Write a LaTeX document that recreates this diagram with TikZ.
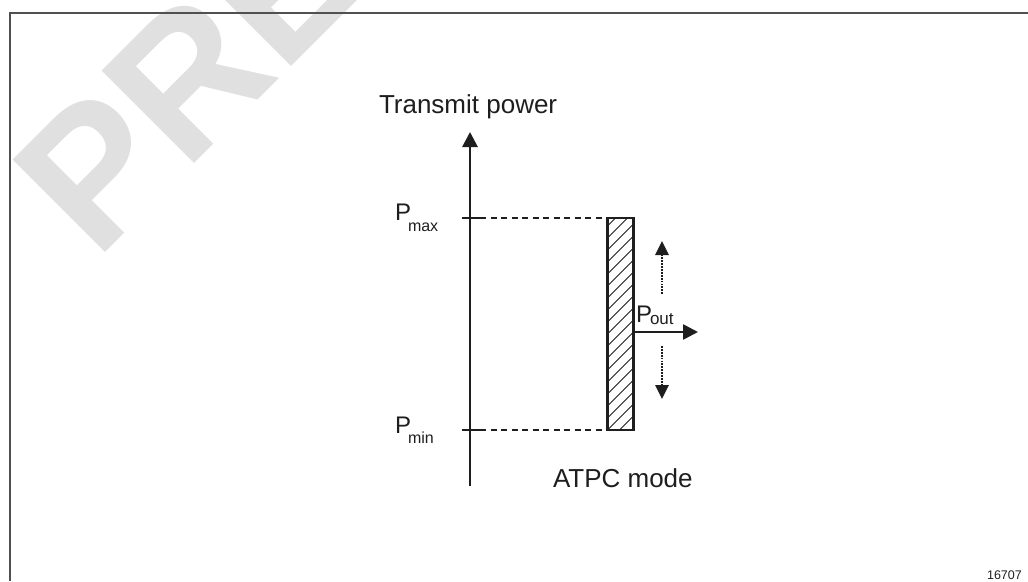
\documentclass[tikz,border=0pt]{standalone}
\usepackage{fontspec}
\setmainfont{Liberation Sans}
\usetikzlibrary{arrows.meta,calc}
\definecolor{wm}{RGB}{224,224,224}
\definecolor{framec}{RGB}{80,80,80}
\definecolor{ink}{RGB}{30,30,30}
\tikzset{
  px/.style={x=1pt,y=-1pt},
  txt/.style={inner sep=0pt,outer sep=0pt,text=ink,anchor=base west},
  big/.style={font=\fontsize{26}{30}\selectfont},
  plab/.style={font=\fontsize{24}{28}\selectfont},
  axisline/.style={draw=ink,line width=2.8pt},
  tick/.style={draw=ink,line width=1.7pt},
  guide/.style={draw=ink,line width=1.3pt,dash pattern=on 6pt off 4.5pt},
  barbox/.style={draw=ink,line width=2.8pt,minimum width=26pt,minimum height=212pt,inner sep=0pt,outer sep=0pt,
    path picture={\foreach \k in {-264,-252,...,40}{\draw[ink,line width=0.9pt]
      ([xshift=\k pt]path picture bounding box.south west) -- ++(264pt,264pt);}}},
  solidarrow/.style={draw=ink,line width=2.6pt,-{Triangle[length=15pt,width=15pt]}},
  dotarrow/.style={draw=ink,line width=2.8pt,dash pattern=on 1.8pt off 1.1pt,-{Triangle[length=14pt,width=13pt]}},
  axisarrow/.style={axisline,-{Triangle[length=15pt,width=15pt]}},
}
\newcommand{\subs}[2]{{\fontsize{16}{16}\selectfont\kern-3pt\raisebox{-#1pt}{#2}}}
\begin{document}
\begin{tikzpicture}[px]
\useasboundingbox (0,0) rectangle (1028,581);
% watermark
\node[inner sep=0pt,anchor=base west,rotate=45,text=wm,font=\fontsize{190}{190}\selectfont\bfseries] (wmark) at (96,262) {PRE};
% frame
\draw[framec,line width=1.6pt] (10,581) -- (10,13) -- (1028,13);
% axis
\coordinate (axb) at (470,486);
\coordinate (axt) at (470,132);
\draw[axisarrow] (axb) -- (axt);
\node[txt,big] (title) at (379,113) {Transmit power};
% ticks
\coordinate (tmaxl) at (462,218);
\coordinate (tmaxr) at (480,218);
\coordinate (tminl) at (462,430);
\coordinate (tminr) at (480,430);
\draw[tick] (tmaxl) -- (tmaxr);
\draw[tick] (tminl) -- (tminr);
\node[txt,plab] (pmax) at (395,220) {P\subs{11}{max}};
\node[txt,plab] (pmin) at (395,433) {P\subs{10}{min}};
% bar
\node[barbox] (bar) at (620.5,324) {};
\draw[guide] (tmaxr) -- (bar.north west);
\draw[guide] (tminr) -- (bar.south west);
% output arrow
\coordinate (pos) at (633,332);
\coordinate (poe) at (698,332);
\draw[solidarrow] (pos) -- (poe);
\node[txt,plab] (pout) at (636,322) {P{\fontsize{17}{17}\selectfont\kern-2pt\raisebox{-2pt}{out}}};
% dotted arrows
\coordinate (u1) at (662,294);
\coordinate (u2) at (662,241);
\coordinate (d1) at (662,346);
\coordinate (d2) at (662,399);
\draw[dotarrow] (u1) -- (u2);
\draw[dotarrow] (d1) -- (d2);
\node[txt,big] (mode) at (553,487) {ATPC mode};
\node[inner sep=0pt,anchor=base east,text=ink,font=\fontsize{12.5}{14}\selectfont] (fig) at (1022,579) {16707};
\end{tikzpicture}
\end{document}
